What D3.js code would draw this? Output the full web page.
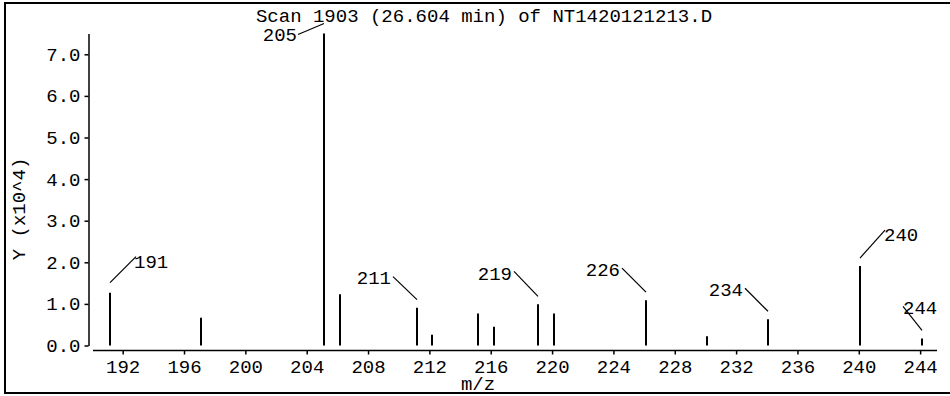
<!DOCTYPE html>
<html><head><meta charset="utf-8">
<script src="https://cdn.jsdelivr.net/npm/d3@7"></script>
<style>
html,body{margin:0;padding:0;background:#fff;}
svg text{font-family:"Liberation Mono","DejaVu Sans Mono",monospace;font-size:19px;fill:#000;}
</style></head>
<body>
<svg id="c" width="950" height="396"></svg>
<script>
// ---- data ----
const title = "Scan 1903 (26.604 min) of NT1420121213.D";
const xLabel = "m/z";
const yLabel = "Y (x10^4)";
const mz        = [191.2, 197.1, 205.1, 206.2, 211.2, 212.2, 215.2, 216.2, 219.1, 220.1, 226.1, 230.1, 234.1, 240.1, 244.1];
const intensity = [1.27, 0.67, 7.5, 1.23, 0.91, 0.26, 0.77, 0.45, 0.99, 0.77, 1.09, 0.22, 0.63, 1.91, 0.17];
const labelIdx  = [0, 2, 4, 8, 10, 12, 13, 14];
const labelText = ["191", "205", "211", "219", "226", "234", "240", "244"];
const xTicks = [192, 196, 200, 204, 208, 212, 216, 220, 224, 228, 232, 236, 240, 244];
const yTicks = [0, 1, 2, 3, 4, 5, 6, 7];

// ---- layout for label leaders (offsets in px) ----
const leaderLayout = [
  {gap:10, dx: 26, dy:-26, anchor:"start", tx:-2, ty:11},
  {gap:10, dx:-26, dy: 11, anchor:"end",   tx:-1, ty:6.5},
  {gap:8,  dx:-24, dy:-23, anchor:"end",   tx:-2, ty:7.5},
  {gap:8,  dx:-24, dy:-25, anchor:"end",   tx:-2, ty:8.5},
  {gap:8,  dx:-24, dy:-24, anchor:"end",   tx:-2, ty:8.3},
  {gap:8,  dx:-23, dy:-23, anchor:"end",   tx:-2, ty:7.8},
  {gap:8,  dx: 25, dy:-28, anchor:"start", tx:-1, ty:10.8},
  {gap:8,  dx:-19, dy:-24, anchor:"start", tx:0,  ty:7.5}
];

const svg = d3.select("#c");
svg.append("rect").attr("x",5).attr("y",3).attr("width",960).attr("height",390)
   .attr("fill","none").attr("stroke","#000").attr("stroke-width",2);

const x = d3.scaleLinear().domain([190, 245.1]).range([92, 937]);
const y = d3.scaleLinear().domain([0, 7.5]).range([345.5, 33.5]);

// y axis
const gy = svg.append("g").attr("transform","translate(88.5,0)")
  .call(d3.axisLeft(y).tickValues(yTicks).tickFormat(d3.format(".1f")).tickSize(4).tickSizeOuter(0).tickPadding(4));
// x axis
const gx = svg.append("g").attr("transform","translate(0,350.5)")
  .call(d3.axisBottom(x).tickValues(xTicks).tickFormat(d3.format("d")).tickSize(4).tickSizeOuter(0).tickPadding(5));
[gx, gy].forEach(g=>{
  g.selectAll("path,line").attr("stroke","#000").attr("stroke-width",1.5);
  g.selectAll("text").attr("font-family",null).attr("font-size",null).attr("fill","#000");
});
gx.select(".domain").attr("d", `M${93},0H${937}`);

// peaks
const peaks = mz.map((m,i)=>({mz:m, v:intensity[i]}));
svg.append("g").selectAll("line").data(peaks).join("line")
  .attr("x1",d=>Math.round(x(d.mz))).attr("x2",d=>Math.round(x(d.mz)))
  .attr("y1",y(0)).attr("y2",d=>y(d.v))
  .attr("stroke","#000").attr("stroke-width",2);

// labels with leaders
const labs = labelIdx.map((i,k)=>({p:peaks[i], t:labelText[k], L:leaderLayout[k]}));
const lg = svg.append("g");
labs.forEach(o=>{
  const sx = Math.round(x(o.p.mz)) , sy = y(o.p.v) - o.L.gap;
  const ex = sx + o.L.dx, ey = sy + o.L.dy;
  lg.append("line").attr("x1",sx).attr("y1",sy).attr("x2",ex).attr("y2",ey)
    .attr("stroke","#000").attr("stroke-width",1.2);
  lg.append("text").attr("x",ex+o.L.tx).attr("y",ey+o.L.ty)
    .attr("text-anchor",o.L.anchor).text(o.t);
});

// title and axis labels
svg.append("text").attr("x",484).attr("y",22).attr("text-anchor","middle").text(title);
svg.append("text").attr("x",478).attr("y",390).attr("text-anchor","middle").text(xLabel);
svg.append("text").attr("transform","translate(25,209) rotate(-90)").attr("text-anchor","middle").text(yLabel);
</script>
</body></html>
